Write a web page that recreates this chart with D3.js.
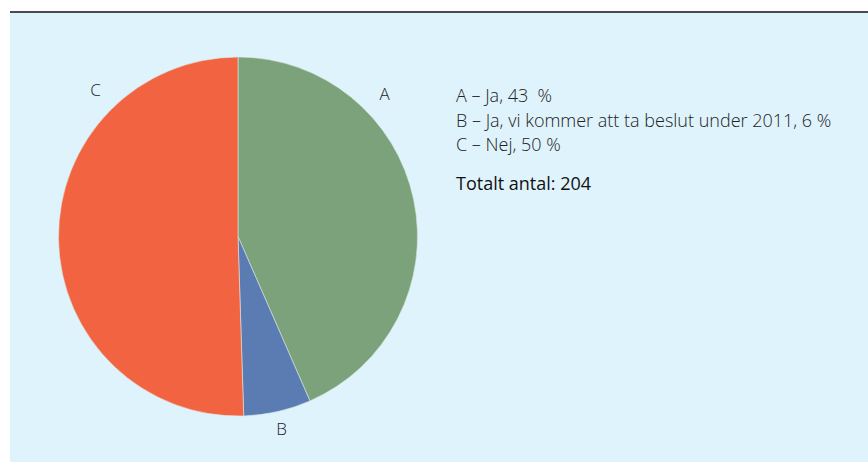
<!DOCTYPE html>
<html>
<head>
<meta charset="utf-8">
<script src="https://cdn.jsdelivr.net/npm/d3@7"></script>
<style>
  html, body { margin: 0; padding: 0; background: #ffffff; }
  svg { display: block; }
</style>
</head>
<body>
<div id="chart"></div>
<script>
const categories = ["A", "B", "C"];
const values = [43, 6, 50];
const legendLines = [
  "A – Ja, 43  %",
  "B – Ja, vi kommer att ta beslut under 2011, 6 %",
  "C – Nej, 50 %"
];
const totalText = "Totalt antal: 204";
const colors = ["#7ca27b", "#5b7bb3", "#f26441"];

const width = 868;
const height = 463;
const font = "'Open Sans', Lato, sans-serif";

const svg = d3.select("#chart")
  .append("svg")
  .attr("width", width)
  .attr("height", height);

// panel + top rule
svg.append("rect")
  .attr("x", 10)
  .attr("y", 12)
  .attr("width", width - 10)
  .attr("height", 450)
  .attr("fill", "#dff3fc");

svg.append("line")
  .attr("x1", 10)
  .attr("x2", width)
  .attr("y1", 12)
  .attr("y2", 12)
  .attr("stroke", "#4a4a4a")
  .attr("stroke-width", 2);

const cx = 238;
const cy = 236.5;
const radius = 179.5;

const pie = d3.pie().sort(null).value((d) => d);
const arcs = pie(values);

const arc = d3.arc().innerRadius(0).outerRadius(radius);

const g = svg.append("g").attr("transform", `translate(${cx},${cy})`);

g.selectAll("path")
  .data(arcs)
  .enter()
  .append("path")
  .attr("d", arc)
  .attr("fill", (d, i) => colors[i])
  .attr("stroke", "#dbe7e0")
  .attr("stroke-width", 0.6);

// where each letter sits relative to its slice (angle in radians from slice edge / middle)
function labelPos(d, i) {
  let ang;
  let r;
  if (i === 0) { ang = d.startAngle + 0.80; r = radius + 25; }
  else if (i === 2) { ang = d.endAngle - 0.77; r = radius + 25; }
  else { ang = (d.startAngle + d.endAngle) / 2; r = radius + 18; }
  return [Math.sin(ang) * r, -Math.cos(ang) * r];
}

g.selectAll("text.slice-label")
  .data(arcs)
  .enter()
  .append("text")
  .attr("class", "slice-label")
  .attr("transform", (d, i) => `translate(${labelPos(d, i)})`)
  .attr("text-anchor", "middle")
  .attr("dy", "0.36em")
  .style("font-family", font)
  .style("font-weight", 300)
  .style("font-size", "17px")
  .style("fill", "#222")
  .text((d, i) => categories[i]);

// legend text
const legend = svg.append("g").attr("transform", "translate(456,0)");

legend.selectAll("text.legend-line")
  .data(legendLines)
  .enter()
  .append("text")
  .attr("class", "legend-line")
  .attr("x", 0)
  .attr("y", (d, i) => 102 + i * 24.5)
  .style("font-family", font)
  .style("font-weight", 300)
  .style("font-size", "18px")
  .style("fill", "#222")
  .style("white-space", "pre")
  .text((d) => d);

legend.append("text")
  .attr("x", 0)
  .attr("y", 190)
  .style("font-family", font)
  .style("font-weight", 500)
  .style("font-size", "18px")
  .style("fill", "#111")
  .text(totalText);
</script>
</body>
</html>
